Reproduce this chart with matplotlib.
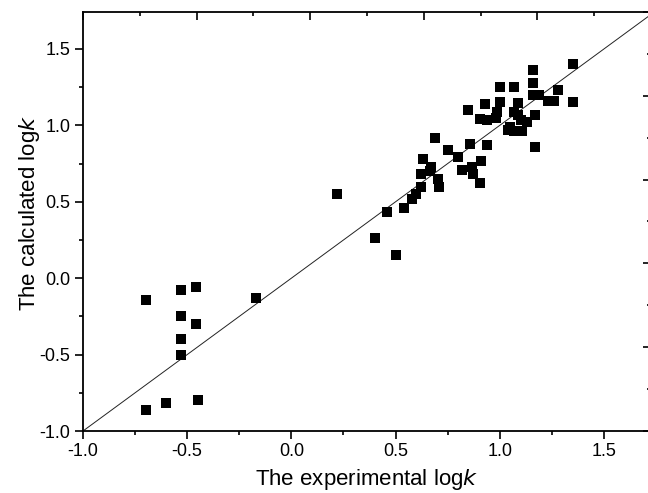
import matplotlib
matplotlib.use("Agg")
import matplotlib.pyplot as plt
import numpy as np
from matplotlib.ticker import MultipleLocator, NullFormatter

plt.rcParams['font.family'] = ['Liberation Sans', 'DejaVu Sans']

# experimental log k (x) and calculated log k (y)
x_exp = [-0.70, -0.53, -0.46, -0.53, -0.46, -0.53, -0.53, -0.70, -0.60, -0.45, -0.17,
         0.22, 0.40, 0.46, 0.50,
         0.54, 0.58, 0.60, 0.62, 0.62, 0.63, 0.67, 0.665, 0.705, 0.71, 0.69, 0.75,
         0.80, 0.82, 0.865, 0.87, 0.91, 0.905, 0.855, 0.94,
         0.85, 0.93, 1.00, 1.09, 1.00, 1.07, 1.16, 1.16, 1.16, 1.19, 1.23, 1.26,
         1.28, 1.35, 1.35, 1.17, 1.17, 0.905, 0.94, 0.98, 0.985, 1.07, 1.09, 1.10,
         1.13, 1.05, 1.07, 1.105, 1.04]
y_calc = [-0.14, -0.08, -0.06, -0.25, -0.30, -0.40, -0.50, -0.86, -0.82, -0.80, -0.13,
          0.55, 0.26, 0.43, 0.15,
          0.46, 0.52, 0.55, 0.60, 0.68, 0.78, 0.73, 0.70, 0.65, 0.60, 0.92, 0.84,
          0.79, 0.71, 0.73, 0.68, 0.77, 0.62, 0.875, 0.87,
          1.10, 1.14, 1.15, 1.145, 1.25, 1.25, 1.36, 1.28, 1.20, 1.20, 1.16, 1.16,
          1.23, 1.40, 1.155, 1.07, 0.86, 1.04, 1.035, 1.05, 1.09, 1.09, 1.07, 1.035,
          1.02, 0.99, 0.96, 0.96, 0.97]

x_ticks = [-1.0, -0.5, 0.0, 0.5, 1.0, 1.5]
y_ticks = [-1.0, -0.5, 0.0, 0.5, 1.0, 1.5]
x_label = "The experimental log$\\it{k}$"
y_label = "The calculated log$\\it{k}$"

W, H = 648, 493
fig = plt.figure(figsize=(W / 100, H / 100), dpi=100)
left, right, top, bottom = 83, 651, 12, 431
ax = fig.add_axes([left / W, 1 - bottom / H, (right - left) / W, (bottom - top) / H])

ax.set_xlim(-1.0, 1.726)
ax.set_ylim(-1.0, 1.742)

ax.scatter(x_exp, y_calc, marker='s', s=46, color='black', linewidths=0, zorder=3)
ax.plot([-1.0, 1.8], [-1.0, 1.8], color='#222222', lw=0.7, zorder=2)

ax.set_xticks(x_ticks)
ax.set_yticks(y_ticks)
ax.xaxis.set_minor_locator(MultipleLocator(0.25))
ax.yaxis.set_minor_locator(MultipleLocator(0.25))
ax.set_xticklabels([f"{v:.1f}" for v in x_ticks])
ax.set_yticklabels([f"{v:.1f}" for v in y_ticks])
ax.tick_params(which='major', direction='out', length=6, width=1.2, labelsize=13, pad=3)
ax.tick_params(which='minor', direction='out', length=3, width=1.2)
ax.tick_params(top=False, right=False, which='both')

for sp in ['left', 'bottom', 'top']:
    ax.spines[sp].set_linewidth(1.3)
ax.spines['right'].set_visible(False)

ax.set_xlabel(x_label, fontsize=16, labelpad=5)
ax.set_ylabel(y_label, fontsize=16)
ax.yaxis.set_label_coords(-0.072, 0.52)

# top and right secondary tick sets (labels cut off in reference)
axt = ax.twiny()
axt.set_xlim(0, 1)
axt.xaxis.set_major_locator(MultipleLocator(0.2))
axt.xaxis.set_minor_locator(MultipleLocator(0.1))
axt.xaxis.set_major_formatter(NullFormatter())
axt.tick_params(which='major', direction='in', length=6, width=1.2)
axt.tick_params(which='minor', direction='in', length=3, width=1.2)
axt.tick_params(bottom=False, which='both')
for sp in axt.spines.values():
    sp.set_visible(False)

axr = ax.twinx()
axr.set_ylim(0, 1)
axr.yaxis.set_major_locator(MultipleLocator(0.2))
axr.yaxis.set_minor_locator(MultipleLocator(0.1))
axr.yaxis.set_major_formatter(NullFormatter())
axr.tick_params(which='major', direction='in', length=6, width=1.2)
axr.tick_params(which='minor', direction='in', length=3, width=1.2)
axr.tick_params(left=False, which='both')
for sp in axr.spines.values():
    sp.set_visible(False)

fig.savefig("out.png", dpi=100)
